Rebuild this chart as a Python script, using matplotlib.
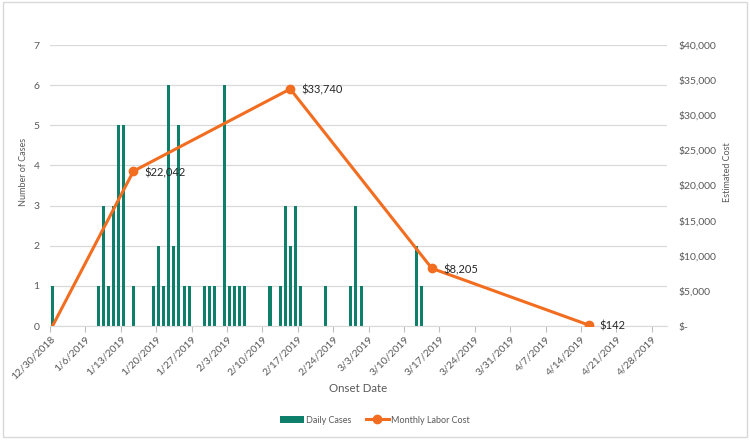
import numpy as np
import pandas as pd
import matplotlib
matplotlib.use("Agg")
import matplotlib.pyplot as plt
from matplotlib.patches import Rectangle

plt.rcParams['font.family'] = ['Lato', 'DejaVu Sans']

# daily onset counts
onset_dates = ["2018-12-30", "2019-01-08", "2019-01-09", "2019-01-10", "2019-01-11",
               "2019-01-12", "2019-01-13", "2019-01-15", "2019-01-19", "2019-01-20",
               "2019-01-21", "2019-01-22", "2019-01-23", "2019-01-24", "2019-01-25",
               "2019-01-26", "2019-01-29", "2019-01-30", "2019-01-31", "2019-02-02",
               "2019-02-03", "2019-02-04", "2019-02-05", "2019-02-06", "2019-02-11",
               "2019-02-13", "2019-02-14", "2019-02-15", "2019-02-16", "2019-02-17",
               "2019-02-22", "2019-02-27", "2019-02-28", "2019-03-01", "2019-03-12",
               "2019-03-13"]
daily_cases = [1, 1, 3, 1, 3, 5, 5, 1, 1, 2, 1, 6, 2, 5, 1, 1, 1, 1, 1, 6,
               1, 1, 1, 1, 1, 1, 3, 2, 3, 1, 1, 1, 3, 1, 2, 1]

# monthly labor cost
cost_dates = ["2018-12-30", "2019-01-15", "2019-02-15", "2019-03-15", "2019-04-15"]
labor_cost = [0, 22042, 33740, 8205, 142]

start = pd.Timestamp("2018-12-30")
n_days = 122
bar_color = '#0e7f6a'
line_color = '#f26d1f'
text_gray = '#595959'

case_x = (pd.to_datetime(onset_dates) - start).days.values + 0.5
cost_x = (pd.to_datetime(cost_dates) - start).days.values + 0.5

fig = plt.figure(figsize=(7.5, 4.4), dpi=100)
ax = fig.add_axes([50/750, 1 - 326/440, 617/750, 281/440])

ax.bar(case_x, daily_cases, width=0.6, color=bar_color, zorder=2, label='Daily Cases')
ax.set_xlim(0, n_days)
ax.set_ylim(0, 7)
ax.set_yticks(range(0, 8))
ax.grid(axis='y', color='#d9d9d9', linewidth=0.9, zorder=0)
ax.set_axisbelow(True)

tick_days = np.arange(0, 120, 7)
tick_labels = [(start + pd.Timedelta(days=int(d))).strftime('%-m/%-d/%Y') for d in tick_days]
ax.set_xticks(tick_days)
ax.set_xticklabels(tick_labels, rotation=45, ha='right', rotation_mode='anchor')
ax.tick_params(axis='x', length=4, color='#bfbfbf', labelsize=7.5, labelcolor=text_gray, pad=2)
ax.tick_params(axis='y', length=0, labelsize=7.5, labelcolor=text_gray, pad=7.5)
for s in ['top', 'right', 'left']:
    ax.spines[s].set_visible(False)
ax.spines['bottom'].set_color('#d9d9d9')
ax.set_ylabel('Number of Cases', fontsize=6.5, color=text_gray)
ax.yaxis.set_label_coords(-0.0357, 0.548)
ax.set_xlabel('Onset Date', fontsize=8.3, color=text_gray)
ax.xaxis.set_label_coords(0.5, -0.203)

ax2 = ax.twinx()
ax2.plot(cost_x, labor_cost, color=line_color, linewidth=2.2, marker='o', markersize=6,
         markevery=[1, 2, 3, 4], label='Monthly Labor Cost')
ax2.set_ylim(0, 40000)
ax2.set_yticks(range(0, 40001, 5000))
ax2.set_yticklabels(['$-'] + ['${:,}'.format(v) for v in range(5000, 40001, 5000)])
ax2.tick_params(axis='y', length=0, labelsize=7.5, labelcolor=text_gray, pad=8)
for s in ax2.spines.values():
    s.set_visible(False)
ax2.set_ylabel('Estimated Cost', fontsize=6.5, color=text_gray)
ax2.yaxis.set_label_coords(1.0908, 0.548)

for x, v in zip(cost_x[1:], labor_cost[1:]):
    ax2.annotate('${:,}'.format(v), (x, v), xytext=(8, -1), textcoords='offset points',
                 ha='left', va='center', fontsize=8, color='#262626')

h1, l1 = ax.get_legend_handles_labels()
h2, l2 = ax2.get_legend_handles_labels()
fig.legend(h1 + h2, l1 + l2, loc='center', bbox_to_anchor=(0.5, 1 - 420/440), ncol=2,
           frameon=False, fontsize=6.5, labelcolor=text_gray, handlelength=2.6,
           handletextpad=0.2, columnspacing=1.6)

fig.patches.append(Rectangle((0.004, 0.006), 0.992, 0.99, transform=fig.transFigure,
                             fill=False, edgecolor='#d9d9d9', linewidth=1))

fig.savefig('out.png', dpi=100)
